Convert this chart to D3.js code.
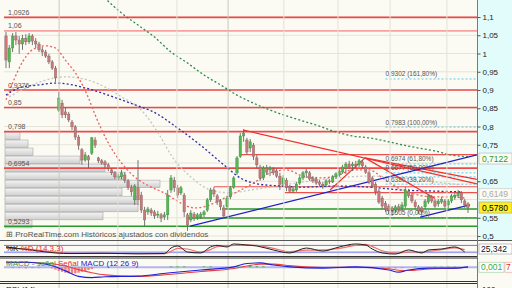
<!DOCTYPE html>
<html><head><meta charset="utf-8">
<script src="https://cdn.jsdelivr.net/npm/d3@7"></script>
<style>body{margin:0;background:#fff}svg{display:block}text{font-family:"Liberation Sans",Arial,sans-serif}</style>
</head><body><svg id="c" width="512" height="288"></svg>
<script>
// ---------- DATA ----------
const opens=[1.048,0.977,1.015,1.048,1.037,1.026,1.042,1.032,1.048,1.034,
1.026,1.010,1.004,0.993,0.977,0.960,0.845,0.864,0.840,0.834,
0.812,0.799,0.771,0.736,0.708,0.717,0.727,0.763,0.714,0.706,
0.703,0.695,0.681,0.673,0.659,0.662,0.667,0.651,0.634,0.599,
0.632,0.612,0.571,0.566,0.571,0.566,0.558,0.558,0.552,0.558,
0.626,0.653,0.632,0.618,0.612,0.558,0.544,0.560,0.552,0.552,
0.558,0.571,0.599,0.626,0.610,0.596,0.577,0.580,0.607,0.634,
0.673,0.717,0.774,0.763,0.741,0.749,0.714,0.689,0.659,0.686,
0.681,0.684,0.678,0.664,0.642,0.653,0.634,0.623,0.626,0.645,
0.659,0.673,0.673,0.659,0.656,0.648,0.642,0.640,0.651,0.648,
0.662,0.667,0.675,0.686,0.697,0.692,0.697,0.695,0.703,0.689,
0.673,0.659,0.642,0.623,0.604,0.590,0.582,0.577,0.571,0.580,
0.577,0.582,0.623,0.612,0.593,0.580,0.577,0.580,0.593,0.607,
0.596,0.588,0.593,0.596,0.585,0.596,0.607,0.610,0.618,0.596,0.588];
const highs=[1.059,1.023,1.056,1.059,1.048,1.051,1.053,1.056,1.053,1.042,
1.032,1.018,1.010,0.999,0.982,0.966,0.895,0.873,0.851,0.840,
0.818,0.804,0.777,0.741,0.730,0.722,0.771,0.771,0.717,0.711,
0.708,0.700,0.686,0.678,0.670,0.681,0.675,0.656,0.640,0.642,
0.708,0.621,0.580,0.580,0.577,0.571,0.569,0.563,0.566,0.626,
0.667,0.662,0.640,0.637,0.618,0.563,0.571,0.566,0.563,0.566,
0.571,0.604,0.632,0.634,0.615,0.601,0.585,0.610,0.637,0.664,
0.719,0.782,0.793,0.769,0.766,0.755,0.722,0.695,0.692,0.695,
0.692,0.689,0.684,0.673,0.667,0.659,0.640,0.637,0.648,0.664,
0.678,0.684,0.678,0.664,0.662,0.653,0.648,0.656,0.656,0.667,
0.675,0.684,0.695,0.703,0.706,0.703,0.706,0.711,0.708,0.695,
0.678,0.664,0.648,0.629,0.610,0.596,0.588,0.582,0.585,0.588,
0.593,0.634,0.629,0.618,0.599,0.585,0.582,0.601,0.615,0.612,
0.601,0.601,0.607,0.601,0.601,0.615,0.618,0.626,0.623,0.601,0.593];
const lows=[0.960,0.960,1.004,1.023,0.999,1.010,1.023,1.026,1.023,1.015,
1.004,0.993,0.988,0.971,0.955,0.922,0.840,0.823,0.823,0.812,
0.790,0.763,0.736,0.695,0.703,0.686,0.722,0.741,0.700,0.695,
0.686,0.678,0.667,0.656,0.653,0.656,0.645,0.626,0.610,0.585,
0.585,0.563,0.527,0.558,0.555,0.547,0.549,0.538,0.544,0.544,
0.618,0.621,0.604,0.612,0.552,0.514,0.538,0.541,0.544,0.547,
0.552,0.566,0.593,0.607,0.585,0.571,0.549,0.574,0.601,0.629,
0.667,0.714,0.758,0.722,0.730,0.708,0.686,0.651,0.653,0.667,
0.664,0.667,0.659,0.626,0.634,0.623,0.618,0.618,0.621,0.640,
0.653,0.659,0.651,0.645,0.640,0.637,0.629,0.634,0.642,0.645,
0.656,0.662,0.670,0.670,0.684,0.678,0.686,0.689,0.686,0.670,
0.642,0.632,0.612,0.588,0.574,0.566,0.560,0.555,0.563,0.566,
0.569,0.577,0.604,0.590,0.574,0.560,0.555,0.574,0.588,0.590,
0.577,0.580,0.588,0.577,0.577,0.590,0.599,0.604,0.590,0.577,0.563];
const closes=[0.982,1.015,1.048,1.037,1.026,1.042,1.032,1.048,1.034,1.026,
1.010,1.004,0.993,0.977,0.960,0.933,0.878,0.832,0.832,0.818,
0.799,0.771,0.749,0.708,0.722,0.708,0.769,0.749,0.706,0.700,
0.695,0.686,0.673,0.662,0.664,0.673,0.653,0.634,0.621,0.637,
0.599,0.571,0.544,0.574,0.563,0.555,0.560,0.549,0.558,0.612,
0.659,0.632,0.612,0.632,0.566,0.530,0.563,0.549,0.558,0.560,
0.566,0.599,0.626,0.615,0.593,0.580,0.555,0.604,0.632,0.659,
0.714,0.774,0.782,0.730,0.758,0.717,0.695,0.659,0.686,0.675,
0.686,0.673,0.664,0.642,0.659,0.632,0.623,0.629,0.642,0.659,
0.673,0.678,0.656,0.651,0.645,0.642,0.637,0.651,0.648,0.662,
0.670,0.678,0.689,0.697,0.689,0.697,0.692,0.706,0.692,0.675,
0.648,0.637,0.621,0.593,0.582,0.574,0.569,0.569,0.580,0.574,
0.585,0.626,0.610,0.596,0.580,0.569,0.566,0.596,0.610,0.596,
0.582,0.596,0.601,0.582,0.596,0.610,0.612,0.618,0.599,0.585,0.578];

// moving averages: [candle index, price]
const maGreen=[[28,1.169],[35,1.111],[40,1.078],[45,1.045],[50,1.004],[55,0.974],[60,0.941],[65,0.914],[70,0.886],[75,0.864],[80,0.845],[85,0.829],[90,0.815],[95,0.801],[100,0.785],[105,0.774],[110,0.769],[115,0.760],[120,0.750],[125,0.741],[130,0.733],[135,0.722],[140,0.717]];
const maBlue=[[0,0.886],[4,0.906],[10,0.914],[15,0.919],[24,0.906],[29,0.892],[35,0.873],[41,0.853],[44,0.843],[52,0.796],[60,0.741],[66,0.695],[71,0.659],[76,0.643],[83,0.637],[90,0.634],[100,0.637],[110,0.634],[120,0.626],[130,0.623],[138,0.621]];
const maRed=[[0,0.873],[2,0.919],[5,0.977],[8,1.010],[12,1.021],[15,1.015],[18,0.982],[22,0.933],[25,0.878],[27,0.832],[31,0.755],[35,0.700],[39,0.662],[44,0.634],[48,0.618],[53,0.590],[57,0.577],[60,0.580],[65,0.599],[70,0.621],[75,0.645],[80,0.673],[85,0.681],[90,0.664],[95,0.659],[100,0.664],[105,0.681],[110,0.681],[115,0.653],[120,0.626],[125,0.612],[130,0.607],[135,0.607],[139,0.604]];
const maGrey=[[1,0.881],[8,0.914],[18,0.936],[25,0.927],[30,0.908],[35,0.881],[41,0.845],[47,0.769],[50,0.722],[56,0.662],[62,0.626],[68,0.618],[74,0.626],[80,0.634],[90,0.648],[100,0.659],[110,0.664],[120,0.659],[130,0.648],[138,0.640]];

// horizontal levels
const levelPrices=[1.099,1.062,0.900,0.852,0.786,0.686];
const levelLabels=["1,0926","1,06","0,9376","0,85","0,798","0,6954"];
const redSegStart=[71,63,84.5];
const redSegPrice=[0.723,0.635,0.619];
const greenSegStart=[65.5,55,-2];
const greenSegPrice=[0.574,0.549,0.527];
const greenLabel="0,5293";
// trend lines [i1,p1,i2,p2]
const redTrends=[[72,0.790,142.7,0.643],[98.2,0.626,108.8,0.714],[108.8,0.714,142.7,0.655],[108.8,0.714,130,0.603]];
const blueTrends=[[55.8,0.527,142.7,0.722],[125.5,0.552,140.6,0.585]];
// fibonacci
const fibStart=115;
const fibLevels=[0.9302,0.7983,0.6974,0.6730,0.6620,0.6420,0.5505];
const fibLabels=["0,9302 (161,80%)","0,7983 (100,00%)","0,6974 (61,80%)","0,6677 (50,00%)",null,"0,6380 (38,20%)","0,5505 (0,00%)"];
// volume by price
const vpTop=[0.785,0.763,0.741,0.719,0.697,0.675,0.653,0.631,0.609,0.587,0.565,0.543];
const vpVol=[15,23,28,75,100,120,155,117,132,133,98,27];
// axis ticks
const priceTicks=[1.1,1.05,1,0.95,0.9,0.85,0.8,0.75,0.65,0.55,0.5];
const gridIdx=[16.1,33.9,51.8,67.3,84.2,100.6,116.4,133.6];
// stochastic
const stochK=[[0,67],[8,40],[15,17],[20,12],[30,14],[40,10],[48,12],[50,58],[52,75],[55,25],[59,17],[62,67],[64,80],[67,67],[69,92],[73,83],[76,75],[81,42],[86,17],[91,58],[96,33],[101,67],[106,92],[109,83],[111,50],[114,17],[118,8],[122,42],[126,17],[128,42],[132,50],[136,67],[139,25]];
const stochD=[[0,60],[8,45],[15,22],[20,14],[30,13],[40,12],[48,11],[50,30],[52,55],[55,50],[59,25],[62,45],[64,70],[67,75],[69,80],[73,85],[76,80],[81,55],[86,28],[91,40],[96,42],[101,55],[106,80],[109,88],[111,70],[114,35],[118,15],[122,25],[126,25],[128,30],[132,45],[136,60],[139,45]];
// MACD
const macdLine=[[0,0.017],[6,0.016],[12,0.010],[14,0.005],[18,-0.012],[22,-0.030],[26,-0.034],[30,-0.031],[40,-0.029],[49,-0.019],[59,-0.009],[69,0.001],[73,0.012],[77,0.014],[81,0.007],[86,0.001],[96,-0.003],[106,0.001],[116,-0.009],[119,-0.016],[122,-0.009],[128,-0.003],[136,-0.003],[140,0.001]];
const signalLine=[[0,0.015],[6,0.016],[12,0.013],[14,0.011],[18,0.004],[22,-0.008],[26,-0.018],[30,-0.025],[40,-0.030],[49,-0.024],[59,-0.014],[69,-0.004],[73,0.004],[77,0.010],[81,0.010],[86,0.005],[96,-0.001],[106,0.000],[116,-0.005],[119,-0.010],[122,-0.011],[128,-0.006],[136,-0.003],[140,0.000]];
const macdHist=[[2,-0.003],[4,-0.003],[6,-0.004],[8,-0.003],[10,-0.003],[14,-0.004],[15,-0.008],[16,-0.012],[17,-0.015],[18,-0.018],[19,-0.020],[20,-0.021],[21,-0.020],[22,-0.018],[23,-0.015],[24,-0.012],[25,-0.009],[26,-0.006],[50,0.003],[52,0.003],[54,0.003],[60,0.003],[62,0.003],[70,0.004],[72,0.004],[74,0.004],[76,0.004],[78,0.003],[104,0.002],[114,-0.003],[116,-0.004],[118,-0.004],[120,-0.003],[124,0.002],[130,0.002],[132,0.002],[134,0.002],[136,0.002]];

// ---------- DRAW ----------
const svg=d3.select('#c');
const fmt=v=>String(v).replace('.',',');
svg.append('rect').attr('width',512).attr('height',288).attr('fill','#fbfbf3');
svg.append('rect').attr('x',478).attr('y',0).attr('width',34).attr('height',240).attr('fill','#e2fbfb');

const x=d3.scaleLinear().domain([0,140]).range([6,468]);
const y=d3.scaleLinear().domain([0.5,1.1]).range([236,17]);
const xR=477, xL=4;

const defs=svg.append('defs');
defs.append('clipPath').attr('id','mc').append('rect').attr('x',xL).attr('y',0).attr('width',xR-xL).attr('height',240);
const g=d3.select('#c').append('g').attr('clip-path','url(#mc)');

// grid
g.selectAll('.hg').data(d3.range(0.5,1.1001,0.05)).join('line')
 .attr('x1',xL).attr('x2',xR).attr('y1',d=>y(d)).attr('y2',d=>y(d)).attr('stroke','#e4e4d8');
svg.selectAll('.vg').data(gridIdx).join('line')
 .attr('x1',d=>x(d)).attr('x2',d=>x(d)).attr('y1',0).attr('y2',288)
 .attr('stroke',(d,i)=>i===3||i===0?'#c9c9c0':'#e2e2d6');

// volume profile
const gr=defs.append('linearGradient').attr('id','vg').attr('x1',0).attr('y1',0).attr('x2',0).attr('y2',1);
gr.append('stop').attr('offset',0).attr('stop-color','#f4f4f4');
gr.append('stop').attr('offset',1).attr('stop-color','#cfcfcf');
const vx=d3.scaleLinear().domain([0,160]).range([xL+1,xL+161]);
const bin=0.022;
g.selectAll('.vp').data(vpVol).join('rect')
 .attr('x',xL+1).attr('y',(d,i)=>y(vpTop[i])).attr('width',d=>vx(d)-vx(0))
 .attr('height',(d,i)=>y(vpTop[i]-bin)-y(vpTop[i])-0.5)
 .attr('fill','url(#vg)').attr('stroke','#a8a8a8').attr('stroke-width',0.6);

// fib lines
g.selectAll('.fib').data(fibLevels).join('line')
 .attr('x1',x(fibStart)).attr('x2',xR).attr('y1',d=>y(d)).attr('y2',d=>y(d))
 .attr('stroke','#5cc8f0').attr('stroke-width',1).attr('stroke-dasharray','2,2');

// horizontal red levels
g.selectAll('.lv').data(levelPrices).join('line')
 .attr('x1',xL).attr('x2',xR).attr('y1',d=>y(d)).attr('y2',d=>y(d))
 .attr('stroke',(d,i)=>i===1?'#f6a0a0':'#ee4848').attr('stroke-width',1.6);
g.selectAll('.rs').data(redSegPrice).join('line')
 .attr('x1',(d,i)=>x(redSegStart[i])).attr('x2',xR).attr('y1',d=>y(d)).attr('y2',d=>y(d))
 .attr('stroke','#ee5050').attr('stroke-width',1.2);
g.selectAll('.gs').data(greenSegPrice).join('line')
 .attr('x1',(d,i)=>Math.max(xL,x(greenSegStart[i]))).attr('x2',xR).attr('y1',d=>y(d)).attr('y2',d=>y(d))
 .attr('stroke','#2a9a2a').attr('stroke-width',1.5);

// MAs
const line=d3.line().x(d=>x(d[0])).y(d=>y(d[1])).curve(d3.curveMonotoneX);
[[maGrey,'#c4c4c4'],[maGreen,'#2d8a4e'],[maBlue,'#2c2ca8'],[maRed,'#e86060']].forEach(([d,c])=>{
 g.append('path').attr('d',line(d)).attr('fill','none').attr('stroke',c).attr('stroke-width',1.3).attr('stroke-dasharray','2,2.2');
});

// trend lines
g.selectAll('.rt').data(redTrends).join('line')
 .attr('x1',d=>x(d[0])).attr('y1',d=>y(d[1])).attr('x2',d=>x(d[2])).attr('y2',d=>y(d[3]))
 .attr('stroke','#f03030').attr('stroke-width',1.2);
g.selectAll('.bt').data(blueTrends).join('line')
 .attr('x1',d=>x(d[0])).attr('y1',d=>y(d[1])).attr('x2',d=>x(d[2])).attr('y2',d=>y(d[3]))
 .attr('stroke','#2020c8').attr('stroke-width',1.3);

// candles
const idx=d3.range(opens.length);
const cw=2.4;
g.selectAll('.wk').data(idx).join('line')
 .attr('x1',i=>x(i)).attr('x2',i=>x(i)).attr('y1',i=>y(highs[i])).attr('y2',i=>y(lows[i]))
 .attr('stroke','#666').attr('stroke-width',0.9);
g.selectAll('.bd').data(idx).join('rect')
 .attr('x',i=>x(i)-cw/2).attr('width',cw)
 .attr('y',i=>y(Math.max(opens[i],closes[i])))
 .attr('height',i=>Math.max(1,Math.abs(y(opens[i])-y(closes[i]))))
 .attr('fill',i=>closes[i]>=opens[i]?'#52b852':'#c87a7a')
 .attr('stroke',i=>closes[i]>=opens[i]?'#3d8a3d':'#8a6060').attr('stroke-width',0.4);

// level labels
g.selectAll('.ll').data(levelPrices).join('text')
 .attr('x',8).attr('y',d=>y(d)-2.5).text((d,i)=>levelLabels[i])
 .attr('font-size',7).attr('fill','#555');
g.append('text').attr('x',8).attr('y',y(greenSegPrice[2])-2.5).text(greenLabel).attr('font-size',7).attr('fill','#555');
g.selectAll('.fl').data(fibLevels).join('text')
 .attr('x',x(fibStart)).attr('y',d=>y(d)-2.5).text((d,i)=>fibLabels[i]||'')
 .attr('font-size',6.5).attr('fill','#555');

// bottom note
svg.append('text').attr('x',6).attr('y',237).attr('font-size',8).attr('fill','#555').text('⊞ ProRealTime.com  Históricos ajustados con dividendos');
svg.append('line').attr('x1',0).attr('x2',512).attr('y1',240.5).attr('y2',240.5).attr('stroke','#555');

// price axis
svg.append('line').attr('x1',xR+0.5).attr('x2',xR+0.5).attr('y1',0).attr('y2',288).attr('stroke','#7a7a7a');
const ax=svg.append('g').attr('transform',`translate(${xR+0.5},0)`)
 .call(d3.axisRight(y).tickValues(priceTicks).tickFormat(fmt).tickSize(3));
ax.select('.domain').remove();
ax.selectAll('text').attr('font-size',8).attr('fill','#222').attr('x',5).style('font-family','Liberation Sans, Arial');
ax.selectAll('line').attr('stroke','#555');

// value boxes on main axis
function box(yv,txt,fill,tcol,stroke){
 const gg=svg.append('g');
 gg.append('rect').attr('x',479).attr('y',yv-5.5).attr('width',33).attr('height',11).attr('fill',fill).attr('stroke',stroke).attr('stroke-width',0.7);
 gg.append('text').attr('x',482).attr('y',yv+3).attr('font-size',8.5).attr('fill',tcol).text(txt);
}
box(y(0.7122),'0,7122','#fbfbf3','#2d9a2d','#bbb');
box(y(0.6149),'0,6149','#fbfbf3','#aaa','#ccc');
box(y(0.5780),'0,5780','#ffee22','#000','#aa9');

// ---- stochastic panel ----
const ys=d3.scaleLinear().domain([0,100]).range([255,243]);
svg.append('line').attr('x1',0).attr('x2',xR).attr('y1',256.5).attr('y2',256.5).attr('stroke','#333');
[20,80].forEach(v=>svg.append('line').attr('x1',xL).attr('x2',xR).attr('y1',ys(v)).attr('y2',ys(v)).attr('stroke','#7070ee').attr('stroke-width',1));
svg.append('line').attr('x1',xL).attr('x2',xR).attr('y1',ys(28)).attr('y2',ys(28)).attr('stroke','#c8c8f4').attr('stroke-width',1.5);
const ls=d3.line().x(d=>x(d[0])).y(d=>ys(d[1])).curve(d3.curveMonotoneX);
svg.append('path').attr('d',ls(stochD)).attr('fill','none').attr('stroke','#f07070').attr('stroke-width',1.2);
svg.append('path').attr('d',ls(stochK)).attr('fill','none').attr('stroke','#222').attr('stroke-width',1);
const st=svg.append('text').attr('x',6).attr('y',251).attr('font-size',8);
st.append('tspan').attr('fill','#111').text('%K ');
st.append('tspan').attr('fill','#e03030').text('%D (14,3,3)');
svg.append('rect').attr('x',479).attr('y',244).attr('width',33).attr('height',10).attr('fill','#fff').attr('stroke','#999').attr('stroke-width',0.6);
svg.append('text').attr('x',481).attr('y',252).attr('font-size',8.5).attr('fill','#111').text('25,342');

// ---- MACD panel ----
const ym=d3.scaleLinear().domain([-0.045,0.03]).range([281,258]);
svg.append('line').attr('x1',0).attr('x2',xR).attr('y1',258).attr('y2',258).attr('stroke','#333');
svg.append('line').attr('x1',0).attr('x2',xR).attr('y1',281.5).attr('y2',281.5).attr('stroke','#333');
svg.append('line').attr('x1',xL).attr('x2',xR).attr('y1',ym(0)).attr('y2',ym(0)).attr('stroke','#b4b4f0').attr('stroke-width',2);
svg.selectAll('.mh').data(macdHist).join('rect')
 .attr('x',d=>x(d[0])-1.2).attr('width',2.4)
 .attr('y',d=>Math.min(ym(0),ym(d[1]))).attr('height',d=>Math.abs(ym(d[1])-ym(0)))
 .attr('fill',d=>d[1]>=0?'#50c050':'#f08080');
const lm=d3.line().x(d=>x(d[0])).y(d=>ym(d[1])).curve(d3.curveMonotoneX);
svg.append('path').attr('d',lm(signalLine)).attr('fill','none').attr('stroke','#e84040').attr('stroke-width',1.1);
svg.append('path').attr('d',lm(macdLine)).attr('fill','none').attr('stroke','#2020e0').attr('stroke-width',1.1);
const mt=svg.append('text').attr('x',6).attr('y',266).attr('font-size',8);
mt.append('tspan').attr('fill','#3a9a3a').text('MACD - señal ');
mt.append('tspan').attr('fill','#e03030').text('Señal ');
mt.append('tspan').attr('fill','#2020d0').text('MACD (12 26 9)');
svg.append('rect').attr('x',479).attr('y',ym(0)-5).attr('width',25).attr('height',10).attr('fill','#fff').attr('stroke','#9c9').attr('stroke-width',0.6);
svg.append('text').attr('x',481).attr('y',ym(0)+3).attr('font-size',8.5).attr('fill','#3aaa3a').text('0,001');
svg.append('rect').attr('x',505).attr('y',ym(0)-5).attr('width',8).attr('height',10).attr('fill','#fff').attr('stroke','#e99').attr('stroke-width',0.6);
svg.append('text').attr('x',506).attr('y',ym(0)+3).attr('font-size',8.5).attr('fill','#e03030').text('7');

// ---- RSI panel (cut) ----
svg.append('line').attr('x1',0).attr('x2',xR).attr('y1',283.5).attr('y2',283.5).attr('stroke','#333');
svg.append('text').attr('x',6).attr('y',292).attr('font-size',8).attr('fill','#111').text('RSI (14)');
svg.append('text').attr('x',482).attr('y',292).attr('font-size',8).attr('fill','#111').text('100');
</script></body></html>
